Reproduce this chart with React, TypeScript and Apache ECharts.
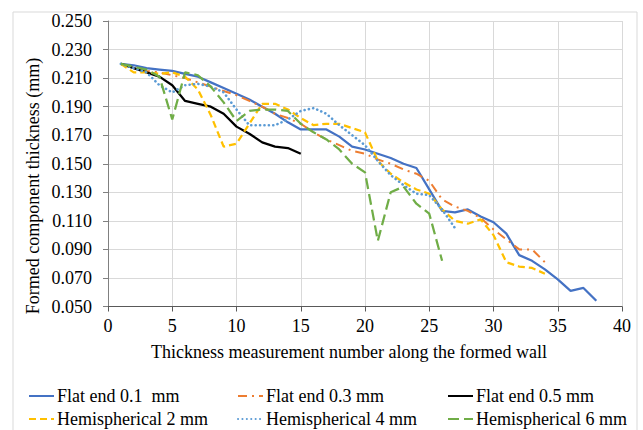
import React, { useEffect, useRef } from "react";
import * as echarts from "echarts";

const seriesNames = [
  "Flat end 0.1  mm",
  "Flat end 0.3 mm",
  "Flat end 0.5 mm",
  "Hemispherical 2 mm",
  "Hemispherical 4 mm",
  "Hemispherical 6 mm",
];

const flatEnd01 = [
  0.220, 0.219, 0.217, 0.216, 0.215, 0.213, 0.211, 0.207, 0.203, 0.199,
  0.195, 0.190, 0.185, 0.179, 0.174, 0.174, 0.174, 0.169, 0.162, 0.160,
  0.157, 0.154, 0.150, 0.147, 0.132, 0.117, 0.116, 0.118, 0.113, 0.109,
  0.101, 0.086, 0.082, 0.076, 0.069, 0.061, 0.063, 0.054,
];
const flatEnd03 = [
  0.220, 0.217, 0.215, 0.214, 0.212, 0.210, 0.207, 0.204, 0.201, 0.198,
  0.194, 0.190, 0.185, 0.182, 0.178, 0.172, 0.167, 0.163, 0.159, 0.157,
  0.153, 0.150, 0.146, 0.143, 0.138, 0.125, 0.120, 0.117, 0.112, 0.104,
  0.097, 0.090, 0.090, 0.081,
];
const flatEnd05 = [
  0.220, 0.217, 0.214, 0.211, 0.205, 0.194, 0.192, 0.190, 0.185, 0.176,
  0.171, 0.165, 0.162, 0.161, 0.157,
];
const hemi2 = [
  0.220, 0.214, 0.214, 0.213, 0.214, 0.211, 0.202, 0.184, 0.162, 0.164,
  0.178, 0.192, 0.192, 0.188, 0.182, 0.177, 0.178, 0.178, 0.175, 0.172,
  0.152, 0.143, 0.137, 0.132, 0.129, 0.118, 0.110, 0.108, 0.111, 0.100,
  0.081, 0.078, 0.077, 0.073,
];
const hemi4 = [
  0.220, 0.217, 0.214, 0.205, 0.200, 0.205, 0.206, 0.204, 0.200, 0.188,
  0.177, 0.177, 0.177, 0.181, 0.187, 0.189, 0.185, 0.177, 0.170, 0.163,
  0.152, 0.142, 0.135, 0.129, 0.128, 0.118, 0.105,
];
const hemi6 = [
  0.220, 0.218, 0.216, 0.211, 0.181, 0.214, 0.212, 0.204, 0.193, 0.180,
  0.187, 0.188, 0.188, 0.187, 0.178, 0.172, 0.167, 0.160, 0.150, 0.144,
  0.096, 0.130, 0.134, 0.122, 0.115, 0.082,
];

const allValues = [flatEnd01, flatEnd03, flatEnd05, hemi2, hemi4, hemi6];

const colors = ["#4472C4", "#ED7D31", "#000000", "#FFC000", "#5B9BD5", "#70AD47"];
const dashes: any[] = ["solid", [9, 5, 2, 5], "solid", [7, 4], [0.1, 4.3], [11, 5]];
const widths = [2.25, 2, 2.25, 2.25, 2.6, 2.25];
const caps = ["butt", "butt", "butt", "butt", "round", "butt"];

const xTitle = "Thickness measurement number along the formed wall";
const yTitle = "Formed component thickness (mm)";

const FONT = "Liberation Serif";

// legend placement: [left, top]
const legendPos = [
  [28, 387],
  [237, 387],
  [447, 387],
  [28, 410],
  [237, 410],
  [447, 410],
];

export default function App() {
  const ref = useRef<HTMLDivElement>(null);
  useEffect(() => {
    document.body.style.margin = "0";
    const chart = echarts.init(ref.current!, null, { renderer: "svg" });
    const series = allValues.map((vals, i) => ({
      name: seriesNames[i],
      type: "line",
      symbol: "none",
      data: vals.map((v, k) => [k + 1, v]),
      lineStyle: {
        color: colors[i],
        width: widths[i],
        type: dashes[i],
        cap: caps[i],
      },
      itemStyle: { color: colors[i] },
      z: 2 + i,
    }));
    const legends = seriesNames.map((n, i) => ({
      data: [n],
      left: legendPos[i][0],
      top: legendPos[i][1],
      orient: "horizontal",
      itemWidth: 25,
      itemHeight: 14,
      itemGap: 0,
      padding: 0,
      selectedMode: false,
      itemStyle: { opacity: 0 },
      textStyle: { fontFamily: FONT, fontSize: 18, color: "#000", padding: [0, 0, 0, -2] },
    }));
    chart.setOption({
      animation: false,
      backgroundColor: "#fff",
      textStyle: { fontFamily: FONT },
      grid: { left: 108, right: 21, top: 21, bottom: 123.5, containLabel: false },
      xAxis: {
        type: "value",
        min: 0,
        max: 40,
        interval: 5,
        axisLine: { show: true, lineStyle: { color: "#595959", width: 1 } },
        axisTick: { show: true, length: 5, lineStyle: { color: "#595959" } },
        splitLine: { show: true, lineStyle: { color: "#d9d9d9", width: 1 } },
        axisLabel: { fontFamily: FONT, fontSize: 18, color: "#000", margin: 10 },
      },
      yAxis: {
        type: "value",
        min: 0.05,
        max: 0.25,
        interval: 0.02,
        axisLine: { show: true, lineStyle: { color: "#808080", width: 1 } },
        axisTick: { show: true, length: 5, lineStyle: { color: "#808080" } },
        splitLine: { show: true, lineStyle: { color: "#d9d9d9", width: 1 } },
        axisLabel: {
          fontFamily: FONT,
          fontSize: 18,
          color: "#000",
          margin: 16,
          formatter: (v: number) => v.toFixed(3),
        },
      },
      legend: legends,
      graphic: [
        {
          type: "rect",
          shape: { x: 13, y: 12, width: 624, height: 430 },
          style: { fill: "none", stroke: "#d9d9d9", lineWidth: 1 },
          silent: true,
          z: -1,
        },
        {
          type: "text",
          x: 349,
          y: 352,
          style: {
            text: xTitle,
            fontFamily: FONT,
            fontSize: 18,
            fill: "#000",
            align: "center",
            verticalAlign: "middle",
          },
        },
        {
          type: "text",
          x: 33,
          y: 186,
          rotation: Math.PI / 2,
          style: {
            text: yTitle,
            fontFamily: FONT,
            fontSize: 18,
            fill: "#000",
            align: "center",
            verticalAlign: "middle",
          },
        },
      ],
      series,
    });
    return () => chart.dispose();
  }, []);
  return <div ref={ref} style={{ width: 643, height: 430 }} />;
}
